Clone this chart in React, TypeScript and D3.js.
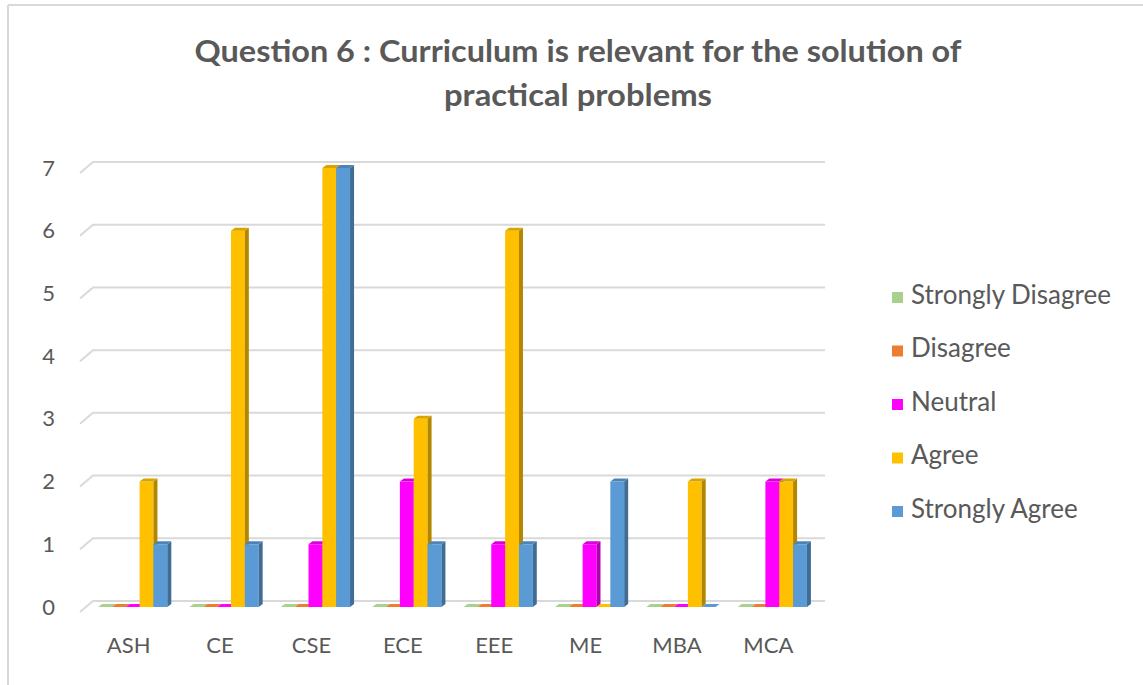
import React from "react";
import * as d3 from "d3";

const categories = ["ASH", "CE", "CSE", "ECE", "EEE", "ME", "MBA", "MCA"];
const seriesNames = ["Strongly Disagree", "Disagree", "Neutral", "Agree", "Strongly Agree"];
const stronglyDisagree = [0, 0, 0, 0, 0, 0, 0, 0];
const disagree = [0, 0, 0, 0, 0, 0, 0, 0];
const neutral = [0, 0, 1, 2, 1, 1, 0, 2];
const agree = [2, 6, 7, 3, 6, 0, 2, 2];
const stronglyAgree = [1, 1, 7, 1, 1, 2, 0, 1];
const yTicks = [0, 1, 2, 3, 4, 5, 6, 7];
const colors = ["#A9D18E", "#ED7D31", "#FF00FF", "#FFC000", "#5B9BD5"];

const seriesValues = [stronglyDisagree, disagree, neutral, agree, stronglyAgree];

const W = 1143;
const H = 685;
const FONT = "Lato, 'Open Sans', sans-serif";
const TXT = "#595959";

export default function App() {
  // front plane of floor
  const x = d3.scaleBand<string>().domain(categories).range([81, 812]).paddingInner(0).paddingOuter(0);
  const inner = d3.scaleBand<string>().domain(seriesNames).range([0, x.bandwidth()]).paddingInner(0).paddingOuter(0.8);
  const yFront = d3.scaleLinear().domain([0, 7]).range([612, 173]);
  // depth offsets
  const backDx = 13, backDy = -11;
  const barDx = 6, barDy = -5;
  const sideDx = 4, sideDy = -3;
  const yBack = (v: number) => yFront(v) + backDy;
  const yBar = (v: number) => yFront(v) + barDy;
  const gridRight = 825;

  const bars: JSX.Element[] = [];
  categories.forEach((c, ci) => {
    seriesNames.forEach((s, si) => {
      const v = seriesValues[si][ci];
      const x0 = (x(c) as number) + (inner(s) as number) + barDx;
      const w = inner.bandwidth();
      const top = yBar(v);
      const bot = yBar(0);
      const base = d3.color(colors[si])!;
      const side = base.darker(1.0).formatHex();
      const topC = base.darker(0.45).formatHex();
      bars.push(
        <g key={`${c}-${s}`}>
          {v > 0 && <rect x={x0} y={top} width={w} height={bot - top} fill={colors[si]} />}
          {v > 0 && (
            <polygon
              points={`${x0 + w},${top} ${x0 + w + sideDx},${top + sideDy} ${x0 + w + sideDx},${bot + sideDy} ${x0 + w},${bot}`}
              fill={side}
            />
          )}
          <polygon
            points={`${x0},${top} ${x0 + sideDx},${top + sideDy} ${x0 + w + sideDx},${top + sideDy} ${x0 + w},${top}`}
            fill={v > 0 ? topC : colors[si]}
          />
        </g>
      );
    });
  });

  return (
    <svg width={W} height={H} style={{ position: "absolute", left: 0, top: 0, background: "#fff" }}>
      {/* frame */}
      <line x1={8} y1={5} x2={W} y2={5} stroke="#d9d9d9" strokeWidth={2} />
      <line x1={8} y1={5} x2={8} y2={H} stroke="#d9d9d9" strokeWidth={2} />

      {/* title */}
      <text x={578} y={62} textAnchor="middle" fontFamily={FONT} fontWeight={700} fontSize={31} fill={TXT} textLength={767} lengthAdjust="spacingAndGlyphs">
        Question 6 : Curriculum is relevant for the solution of
      </text>
      <text x={578} y={106} textAnchor="middle" fontFamily={FONT} fontWeight={700} fontSize={31} fill={TXT} textLength={268} lengthAdjust="spacingAndGlyphs">
        practical problems
      </text>

      {/* gridlines */}
      {yTicks.map((t) => (
        <polyline
          key={t}
          points={`${x.range()[0] - 1},${yFront(t)} ${x.range()[0] - 1 + backDx},${yBack(t)} ${gridRight},${yBack(t)}`}
          fill="none"
          stroke="#d9d9d9"
          strokeWidth={2}
        />
      ))}

      {/* y labels */}
      {yTicks.map((t) => (
        <text key={t} x={55} y={yFront(t) - 3} textAnchor="end" dominantBaseline="middle" fontFamily={FONT} fontSize={22} fill={TXT}>
          {t}
        </text>
      ))}

      {bars}

      {/* x labels */}
      {categories.map((c) => (
        <text key={c} x={(x(c) as number) + x.bandwidth() / 2 + 2} y={647} textAnchor="middle" dominantBaseline="middle" fontFamily={FONT} fontSize={22} fill={TXT}>
          {c}
        </text>
      ))}

      {/* legend */}
      {seriesNames.map((s, i) => (
        <g key={s} transform={`translate(892, ${297 + i * 53.5})`}>
          <rect x={0} y={-5} width={11} height={11} fill={colors[i]} />
          <text x={19} y={0} dominantBaseline="middle" fontFamily={FONT} fontSize={26} fill={TXT}>
            {s}
          </text>
        </g>
      ))}
    </svg>
  );
}
